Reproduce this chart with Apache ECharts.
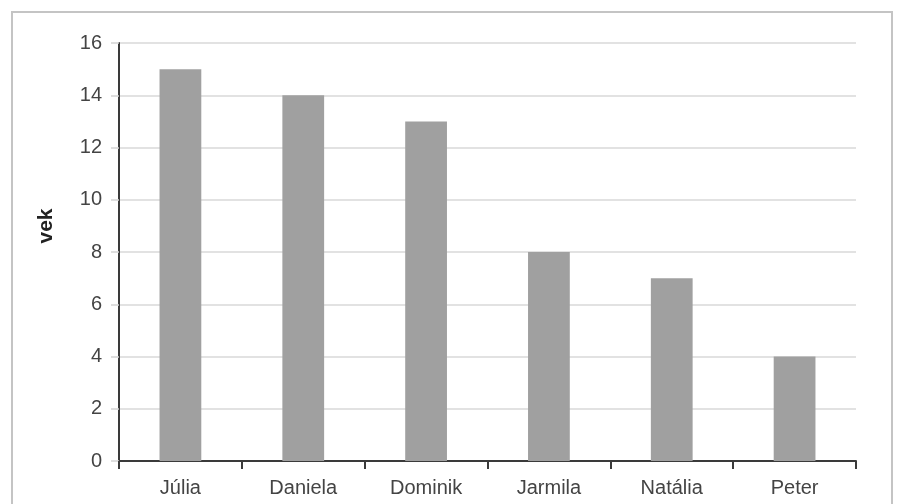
<!DOCTYPE html>
<html>
<head>
<meta charset="utf-8">
<script src="https://cdn.jsdelivr.net/npm/echarts@6/dist/echarts.min.js"></script>
<style>
html,body{margin:0;padding:0;background:#fff;}
#frame{position:absolute;left:11px;top:11px;width:882px;height:520px;border:2px solid #c4c4c4;box-sizing:border-box;}
#chart{position:absolute;left:0;top:0;width:900px;height:504px;}
</style>
</head>
<body>
<div id="frame"></div>
<div id="chart"></div>
<script>
const categories = ['Júlia', 'Daniela', 'Dominik', 'Jarmila', 'Natália', 'Peter'];
const ages = [15, 14, 13, 8, 7, 4];
const yAxisName = 'vek';

const chart = echarts.init(document.getElementById('chart'), null, {renderer: 'canvas'});
chart.setOption({
  animation: false,
  backgroundColor: 'transparent',
  grid: {left: 119, right: 44, top: 43, bottom: 43, containLabel: false},
  xAxis: {
    type: 'category',
    data: categories,
    axisLine: {lineStyle: {color: '#3a3a3a', width: 2}},
    axisTick: {show: true, alignWithLabel: false, length: 8, lineStyle: {color: '#3a3a3a', width: 2}},
    axisLabel: {color: '#444', fontSize: 20, fontFamily: 'Liberation Sans', margin: 17}
  },
  yAxis: {
    type: 'value',
    min: 0, max: 16, interval: 2,
    name: yAxisName,
    nameLocation: 'middle',
    nameGap: 62,
    nameTextStyle: {color: '#222', fontSize: 21, fontWeight: 'bold', fontFamily: 'Liberation Sans', padding: [0, 0, 0, 52]},
    axisLine: {show: true, lineStyle: {color: '#3a3a3a', width: 2}},
    axisTick: {show: true, length: 8, lineStyle: {color: '#d4d4d4', width: 1.5}},
    axisLabel: {color: '#444', fontSize: 20, fontFamily: 'Liberation Sans', margin: 17},
    splitLine: {lineStyle: {color: '#d9d9d9', width: 1.5}}
  },
  series: [{
    type: 'bar',
    data: ages,
    barWidth: '34%',
    itemStyle: {color: '#a0a0a0'}
  }]
});
</script>
</body>
</html>
